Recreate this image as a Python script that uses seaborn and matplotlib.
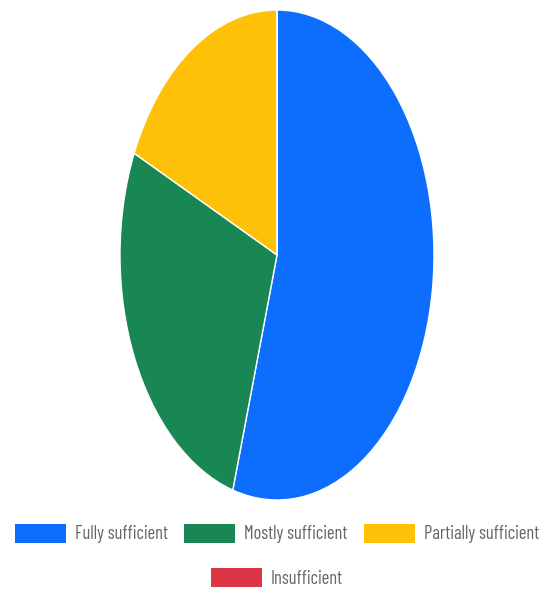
import matplotlib
matplotlib.use("Agg")
import matplotlib.pyplot as plt
import seaborn as sns

categories = ["Fully sufficient", "Mostly sufficient", "Partially sufficient", "Insufficient"]
counts = [6, 3, 2, 0]
colors = ["#0d6efd", "#198754", "#ffc107", "#dc3545"]

sns.set_theme(style="white")
plt.rcParams["font.family"] = ["Barlow Condensed", "Roboto Condensed", "Liberation Sans", "DejaVu Sans"]

W, H = 544, 590
fig = plt.figure(figsize=(W / 100, H / 100), dpi=100)
fig.patch.set_facecolor("white")

# pie axes (elliptical, squashed horizontally like the reference)
left, right, top, bottom = 120, 434, 10, 500
ax = fig.add_axes([left / W, (H - bottom) / H, (right - left) / W, (bottom - top) / H])
wedges, _ = ax.pie(counts, colors=colors, startangle=90, counterclock=False,
                   wedgeprops=dict(edgecolor="white", linewidth=1.0))
ax.set_aspect("auto")
ax.set_xlim(-1, 1)
ax.set_ylim(-1, 1)
ax.axis("off")

# size the legend font so that the first label is ~93 px wide, as in the reference
renderer = fig.canvas.get_renderer()
probe = fig.text(0, 0, categories[0], fontsize=12)
wpx = probe.get_window_extent(renderer).width
probe.remove()
fs = 12 * 93.0 / wpx
fpx = fs * 100 / 72.0

common = dict(frameon=False, fontsize=fs, handlelength=51 / fpx, handleheight=22 / fpx,
              handletextpad=9 / fpx, columnspacing=16 / fpx, borderpad=0, borderaxespad=0,
              labelcolor="#666666")
leg1 = fig.legend(wedges[:3], categories[:3], ncol=3, loc="center",
                  bbox_to_anchor=(277 / W, (H - 533.5) / H), **common)
leg2 = fig.legend(wedges[3:], categories[3:], ncol=1, loc="center",
                  bbox_to_anchor=(277 / W, (H - 578) / H), **common)
for leg in (leg1, leg2):
    for p in leg.get_patches():
        p.set_edgecolor("none")

fig.savefig("out.png", dpi=100, facecolor="white")
